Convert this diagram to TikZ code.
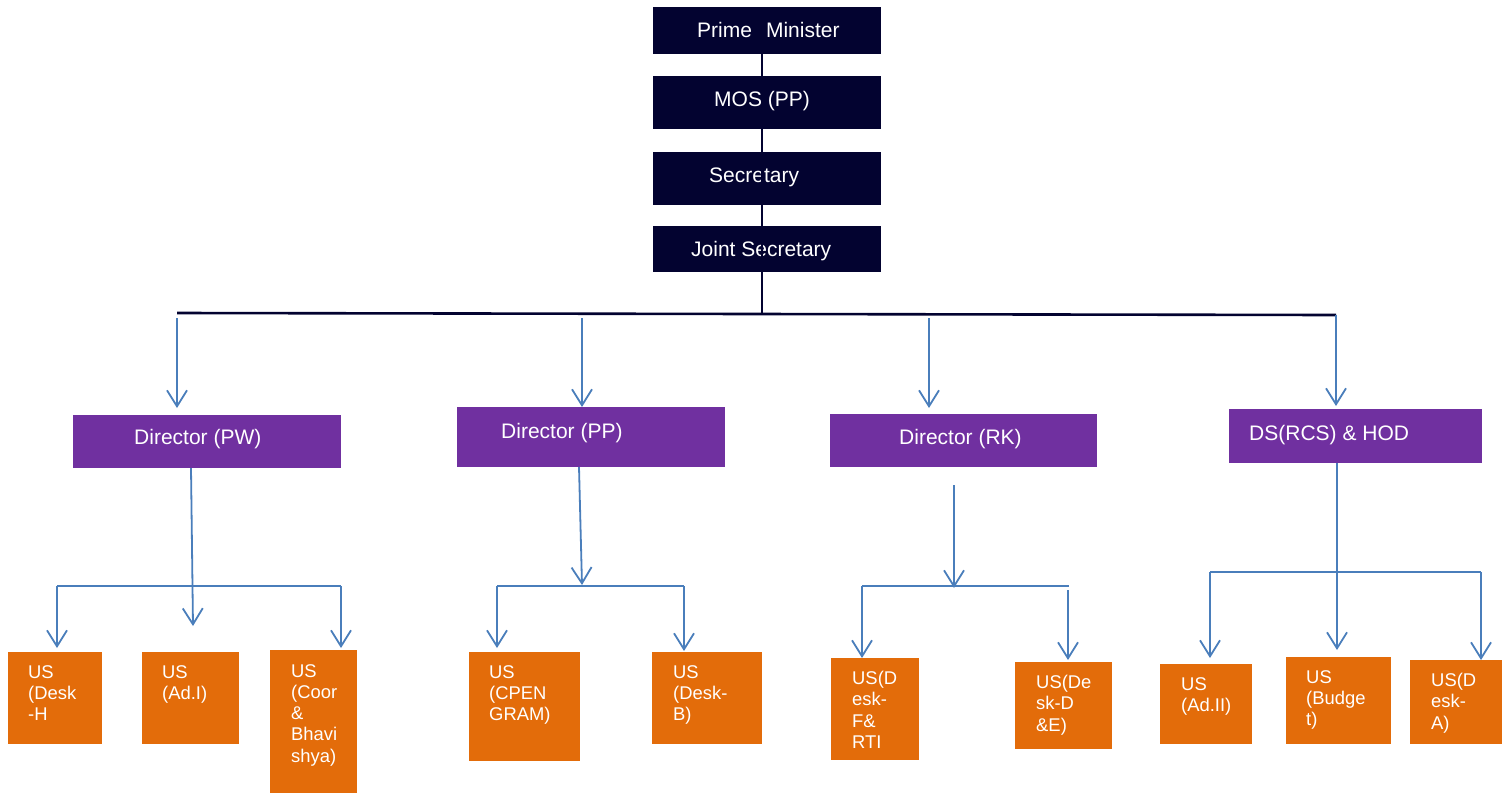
\documentclass[tikz,border=0pt]{standalone}
\usepackage{fontspec}
\setmainfont{Liberation Sans}
\usetikzlibrary{arrows.meta}

\definecolor{navyfill}{RGB}{3,3,48}
\definecolor{dirpurple}{RGB}{112,48,160}
\definecolor{usorange}{RGB}{227,108,10}
\definecolor{linkblue}{RGB}{74,126,187}

\begin{document}
\begin{tikzpicture}[x=1pt,y=-1pt,
  topbox/.style={fill=navyfill, draw=none, anchor=north west, inner sep=0pt, outer sep=0pt},
  dirbox/.style={fill=dirpurple, draw=none, anchor=north west, inner sep=0pt, outer sep=0pt},
  usbox/.style={fill=usorange, draw=none, anchor=north west, inner sep=0pt, outer sep=0pt},
  toptext/.style={text=white, font=\fontsize{21}{24}\selectfont, inner sep=0pt, anchor=base west},
  % first line is strutted, so the node's top sits one strut height above its baseline
  ustext/.style={text=white, font=\fontsize{18.4}{21.2}\selectfont, align=left, inner sep=0pt,
                 anchor=north west, yshift=14.84pt, execute at begin node=\strut},
  spine/.style={draw=navyfill, line width=2pt},
  bus/.style={draw=navyfill, line width=2.6pt},
  link/.style={draw=linkblue, line width=1.8pt},
  linkarrow/.style={link, -{Straight Barb[length=16pt,width=20pt]}}
]
\useasboundingbox (0,0) rectangle (1511,793);

% ---- top of the hierarchy ----
\node[topbox, minimum width=228pt, minimum height=47pt] (pm)  at (653,7)   {};
\node[topbox, minimum width=228pt, minimum height=53pt] (mos) at (653,76)  {};
\node[topbox, minimum width=228pt, minimum height=53pt] (sec) at (653,152) {};
\node[topbox, minimum width=228pt, minimum height=46pt] (js)  at (653,226) {};

\node[toptext] (pmt)  at (697,37.3)  {Prime\hspace{14pt}Minister};
\node[toptext] (most) at (714,106)   {MOS (PP)};
\node[toptext] (sect) at (709,182.7) {Secretary};
\node[toptext] (jst)  at (691,256.5) {Joint Secretary};

% spine running down through the stack to the main bus
\coordinate (spinetop) at (762,30);
\coordinate (jsdrop)   at (762,314);
\draw[spine] (spinetop) -- (jsdrop);

% main horizontal bus
\coordinate (busL) at (177,313);
\coordinate (busR) at (1336,315);
\draw[bus] (busL) -- (busR);

% ---- directors ----
\node[dirbox, minimum width=268pt, minimum height=53pt] (dpw) at (73,415)   {};
\node[dirbox, minimum width=268pt, minimum height=60pt] (dpp) at (457,407)  {};
\node[dirbox, minimum width=267pt, minimum height=53pt] (drk) at (830,414)  {};
\node[dirbox, minimum width=253pt, minimum height=54pt] (dds) at (1229,409) {};

\node[toptext] (dpwt) at (134,444)  {Director (PW)};
\node[toptext] (dppt) at (501,438)  {Director (PP)};
\node[toptext] (drkt) at (899,444)  {Director (RK)};
\node[toptext] (ddst) at (1249,440) {DS(RCS) \& HOD};

% drops from the main bus
\coordinate (dropPW) at (177,318);
\coordinate (dropPP) at (582,318);
\coordinate (dropRK) at (929,318);
\draw[linkarrow] (dropPW) -- (dropPW |- 0,408);
\draw[linkarrow] (dropPP) -- (dropPP |- dpp.north);
\draw[linkarrow] (dropRK) -- (dropRK |- 0,408);
\draw[linkarrow] (busR) -- (1336,406);

% ---- under secretaries ----
\node[usbox, minimum width=94pt,  minimum height=92pt]  (u1)  at (8,652)    {};
\node[usbox, minimum width=97pt,  minimum height=92pt]  (u2)  at (142,652)  {};
\node[usbox, minimum width=87pt,  minimum height=143pt] (u3)  at (270,650)  {};
\node[usbox, minimum width=111pt, minimum height=109pt] (u4)  at (469,652)  {};
\node[usbox, minimum width=110pt, minimum height=92pt]  (u5)  at (652,652)  {};
\node[usbox, minimum width=88pt,  minimum height=102pt] (u6)  at (831,658)  {};
\node[usbox, minimum width=97pt,  minimum height=87pt]  (u7)  at (1015,662) {};
\node[usbox, minimum width=92pt,  minimum height=80pt]  (u8)  at (1160,664) {};
\node[usbox, minimum width=105pt, minimum height=87pt]  (u9)  at (1286,657) {};
\node[usbox, minimum width=92pt,  minimum height=84pt]  (u10) at (1410,660) {};

% each label is placed by the baseline of its first line
\node[ustext] (u1t)  at (28,680)   {US\\(Desk\\-H};
\node[ustext] (u2t)  at (162,680)  {US\\(Ad.I)};
\node[ustext] (u3t)  at (291,679)  {US\\(Coor\\\&\\Bhavi\\shya)};
\node[ustext] (u4t)  at (489,680)  {US\\(CPEN\\GRAM)};
\node[ustext] (u5t)  at (673,680)  {US\\(Desk-\\B)};
\node[ustext] (u6t)  at (852,686)  {US(D\\esk-\\F\&\\RTI};
\node[ustext] (u7t)  at (1036,690) {US(De\\sk-D\\\&E)};
\node[ustext] (u8t)  at (1181,692) {US\\(Ad.II)};
\node[ustext] (u9t)  at (1306,685) {US\\(Budge\\t)};
\node[ustext] (u10t) at (1431,688) {US(D\\esk-\\A)};

% ---- branch under Director (PW) ----
\coordinate (pwL) at (57,586);
\coordinate (pwR) at (341,586);
\draw[link] (pwL) -- (pwR);
\draw[linkarrow] (191,468) -- (193,626);
\draw[linkarrow] (pwL) -- (pwL |- 0,648);
\draw[linkarrow] (pwR) -- (pwR |- 0,648);

% ---- branch under Director (PP) ----
\coordinate (ppL) at (497,586);
\coordinate (ppR) at (684,586);
\draw[link] (ppL) -- (ppR);
\draw[linkarrow] (579,467) -- (582,585);
\draw[linkarrow] (ppL) -- (ppL |- 0,648);
\draw[linkarrow] (ppR) -- (ppR |- 0,651);

% ---- branch under Director (RK) ----
\coordinate (rkL) at (862,586);
\coordinate (rkR) at (1069,586);
\coordinate (rkS) at (954,485);
\draw[link] (rkL) -- (rkR);
\draw[linkarrow] (rkS) -- (rkS |- 0,588);
\draw[linkarrow] (rkL) -- (rkL |- u6.north);
\draw[linkarrow] (1068,590) -- (1068,660);

% ---- branch under DS(RCS) & HOD ----
\coordinate (dsL) at (1210,572);
\coordinate (dsR) at (1481,572);
\draw[link] (dsL) -- (dsR);
\draw[linkarrow] (1337,463) -- (1337,650);
\draw[linkarrow] (dsL) -- (dsL |- 0,658);
\draw[linkarrow] (dsR) -- (dsR |- u10.north);
\end{tikzpicture}
\end{document}
